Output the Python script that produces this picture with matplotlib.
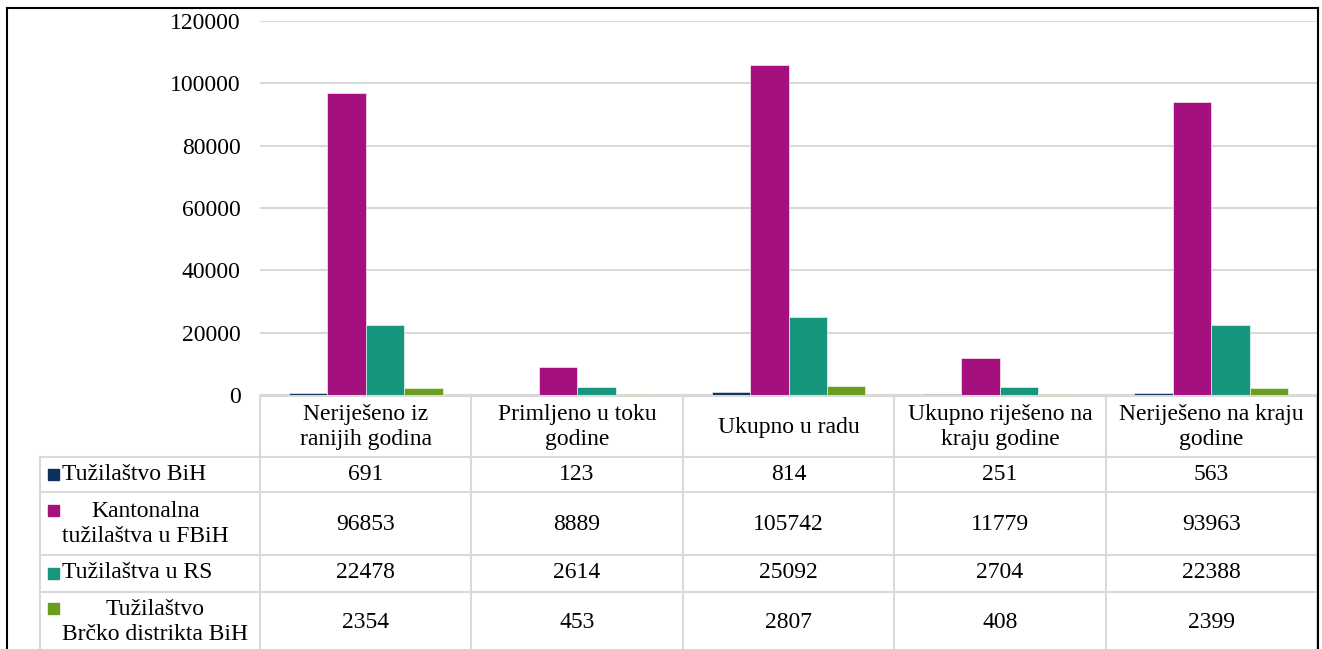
import matplotlib.pyplot as plt
import numpy as np
from matplotlib.lines import Line2D
from matplotlib.patches import Rectangle

plt.rcParams['font.family'] = ['Liberation Serif', 'DejaVu Serif']

# data
categories = ['Neriješeno iz\nranijih godina', 'Primljeno u toku\ngodine', 'Ukupno u radu',
              'Ukupno riješeno na\nkraju godine', 'Neriješeno na kraju\ngodine']
series_names = ['Tužilaštvo BiH', 'Kantonalna\ntužilaštva u FBiH', 'Tužilaštva u RS',
                'Tužilaštvo\nBrčko distrikta BiH']
tuzilastvo_bih = [691, 123, 814, 251, 563]
kantonalna_fbih = [96853, 8889, 105742, 11779, 93963]
tuzilastva_rs = [22478, 2614, 25092, 2704, 22388]
brcko = [2354, 453, 2807, 408, 2399]
colors = ['#0E2F5E', '#A5107F', '#16967C', '#6B9E1F']
yticks = [0, 20000, 40000, 60000, 80000, 100000, 120000]

W, H = 1322, 649
FS = 17
LS = 1.25
def fx(x): return x / W
def fy(y): return 1 - y / H

fig = plt.figure(figsize=(W / 100, H / 100), dpi=100)
ax = fig.add_axes([fx(260), fy(395), (1317 - 260) / W, (395 - 21) / H])

series = [tuzilastvo_bih, kantonalna_fbih, tuzilastva_rs, brcko]
x = np.arange(len(categories))
bw = 1 / 5.5
for i, (vals, c) in enumerate(zip(series, colors)):
    ax.bar(x + (i - 1.5) * bw, vals, bw, color=c, edgecolor='white', linewidth=0.4, zorder=3)

ax.set_xlim(-0.5, len(categories) - 0.5)
ax.set_ylim(0, 120000)
ax.set_yticks(yticks)
ax.set_yticklabels([str(t) for t in yticks], fontsize=FS)
ax.tick_params(axis='y', length=0, pad=14)
ax.set_xticks([])
for s in ax.spines.values():
    s.set_visible(False)
ax.grid(axis='y', color='#D9D9D9', linewidth=1.5, zorder=0)

# data table under the chart
gray = '#D9D9D9'
lw = 1.5
col_px = [ax.transData.transform((b, 0))[0] for b in np.arange(len(categories) + 1) - 0.5]
row_lines = [457, 492, 555, 592]
row_mid = [474, 524, 573, 622]

def hline(y, x0, x1):
    fig.add_artist(Line2D([fx(x0), fx(x1)], [fy(y), fy(y)], color=gray, lw=lw))

def vline(xp, y0, y1):
    fig.add_artist(Line2D([fx(xp), fx(xp)], [fy(y0), fy(y1)], color=gray, lw=lw))

hline(396, col_px[0], col_px[-1])
for r in row_lines:
    hline(r, 40, col_px[-1])
vline(40, 457, H + 5)
for i, cp in enumerate(col_px):
    vline(cp, 396, H + 5)

for i, cat in enumerate(categories):
    cx = (col_px[i] + col_px[i + 1]) / 2
    fig.text(fx(cx), fy(427), cat, ha='center', va='center', fontsize=FS,
             linespacing=LS, multialignment='center')
    for j, vals in enumerate(series):
        fig.text(fx(cx), fy(row_mid[j]), str(vals[i]), ha='center', va='center', fontsize=FS)

for j, (name, c) in enumerate(zip(series_names, colors)):
    two = '\n' in name
    fig.text(fx(62), fy(row_mid[j]), name, ha='left', va='center', fontsize=FS,
             linespacing=LS, multialignment='center')
    my = row_mid[j] - 14 if two else row_mid[j]
    fig.add_artist(Rectangle((fx(48), fy(my + 5.5)), 11 / W, 11 / H, color=c,
                             transform=fig.transFigure))

# outer border
for xs, ys in [([7, 7], [H + 5, 8]), ([7, 1318], [8, 8]), ([1318, 1318], [8, H + 5])]:
    fig.add_artist(Line2D([fx(v) for v in xs], [fy(v) for v in ys], color='black', lw=1.5))

plt.savefig('out.png', dpi=100)
